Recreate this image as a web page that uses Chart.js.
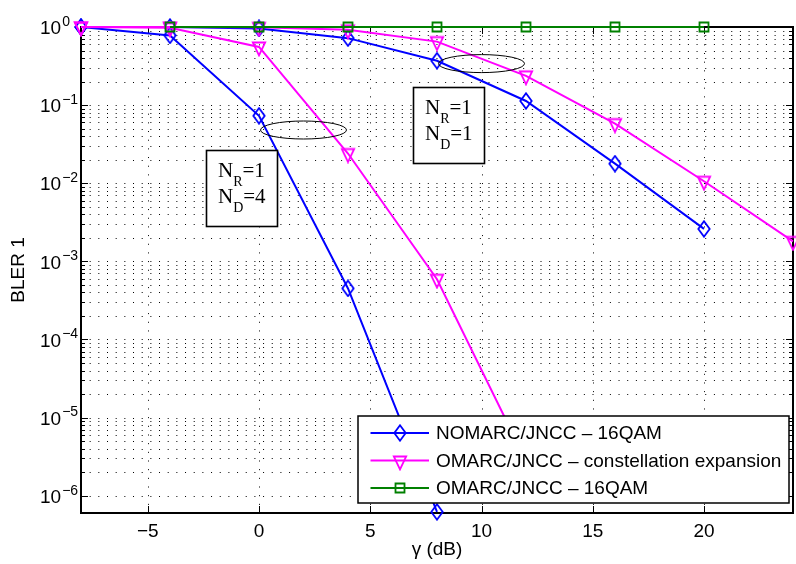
<!DOCTYPE html>
<html>
<head>
<meta charset="utf-8">
<script src="https://cdn.jsdelivr.net/npm/chart.js@4.4.1/dist/chart.umd.min.js"></script>
<style>
html,body{margin:0;padding:0;background:#fff;}
canvas{display:block;}
</style>
</head>
<body>
<canvas id="chart" width="796" height="564"></canvas>
<script>
// gamma (dB) and BLER values
var gammaNomarcND4 = [-8, -4, 0, 4, 8];
var blerNomarcND4 = [1.0, 0.78, 0.073, 4.5e-4, 6.2e-7];
var gammaOmarcCeND4 = [-8, -4, 0, 4, 8, 12];
var blerOmarcCeND4 = [1.0, 0.98, 0.555, 0.024, 5.9e-4, 2.8e-6];
var gammaNomarcND1 = [-8, -4, 0, 4, 8, 12, 16, 20];
var blerNomarcND1 = [1.0, 1.0, 0.96, 0.72, 0.37, 0.113, 0.0178, 0.0026];
var gammaOmarcCeND1 = [-8, -4, 0, 4, 8, 12, 16, 20, 24];
var blerOmarcCeND1 = [1.0, 1.0, 0.99, 0.92, 0.65, 0.237, 0.058, 0.0106, 0.0018];
var gammaOmarc16 = [-4, 0, 4, 8, 12, 16, 20];
var blerOmarc16 = [1, 1, 1, 1, 1, 1, 1];

var seriesNames = ['NOMARC/JNCC \u2013 16QAM', 'OMARC/JNCC \u2013 constellation expansion', 'OMARC/JNCC \u2013 16QAM'];
var seriesColors = ['#0000ff', '#ff00ff', '#008000'];

var xTicks = [-5, 0, 5, 10, 15, 20];
var yDecades = [0, -1, -2, -3, -4, -5, -6];
var xMin = -8, xMax = 24, yMin = 6e-7, yMax = 1;

// text boxes (top-left corner in data coords) and ellipses (centre)
var noteBoxes = [
  {x: -2.38, y: 0.0269, r: '1', d: '4'},
  {x: 6.92, y: 0.171, r: '1', d: '1'}
];
var noteEllipses = [
  {x: 2.0, y: 0.048},
  {x: 10.0, y: 0.34}
];

var SANS = '"Liberation Sans", Arial, Helvetica, sans-serif';
var SERIF = '"Liberation Serif", "Times New Roman", serif';

function makeMarker(kind, color) {
  var c = document.createElement('canvas');
  var g;
  if (kind == 'diamond') {
    c.width = 14; c.height = 18; g = c.getContext('2d');
    g.beginPath(); g.moveTo(7, 1.3); g.lineTo(12.7, 9); g.lineTo(7, 16.7); g.lineTo(1.3, 9); g.closePath();
  } else if (kind == 'triangle') {
    c.width = 16; c.height = 20; g = c.getContext('2d');
    g.beginPath(); g.moveTo(1.8, 5.5); g.lineTo(14.2, 5.5); g.lineTo(8, 18.4); g.closePath();
  } else {
    c.width = 12; c.height = 12; g = c.getContext('2d');
    g.beginPath(); g.rect(1.5, 1.5, 9, 9);
  }
  g.strokeStyle = color; g.lineWidth = 1.8; g.stroke();
  return c;
}
var markers = [makeMarker('diamond', seriesColors[0]), makeMarker('triangle', seriesColors[1]), makeMarker('square', seriesColors[2])];

function series(xs, ys, idx, order) {
  return {
    data: xs.map(function(x, i) { return {x: x, y: ys[i]}; }),
    borderColor: seriesColors[idx],
    backgroundColor: seriesColors[idx],
    borderWidth: 2,
    pointStyle: markers[idx],
    pointRadius: 6,
    pointHoverRadius: 6,
    tension: 0,
    fill: false,
    clip: false,
    order: order
  };
}

var matlabAxes = {
  id: 'matlabAxes',
  beforeDatasetsDraw: function(chart) {
    var ctx = chart.ctx, a = chart.chartArea, xs = chart.scales.x, ys = chart.scales.y;
    ctx.save();
    // dotted grid
    ctx.strokeStyle = '#000';
    ctx.lineWidth = 1;
    ctx.setLineDash([1, 7.67]);
    xs.ticks.forEach(function(t) {
      var px = Math.round(xs.getPixelForValue(t.value)) + 0.5;
      ctx.beginPath(); ctx.moveTo(px, a.top); ctx.lineTo(px, a.bottom); ctx.stroke();
    });
    ys.ticks.forEach(function(t) {
      if (t.value >= yMax) return;
      var py = Math.round(ys.getPixelForValue(t.value)) + 0.5;
      ctx.beginPath(); ctx.moveTo(a.left, py); ctx.lineTo(a.right, py); ctx.stroke();
    });
    ctx.setLineDash([]);
    // inner tick marks
    xs.ticks.forEach(function(t) {
      var px = Math.round(xs.getPixelForValue(t.value)) + 0.5;
      ctx.beginPath();
      ctx.moveTo(px, a.bottom); ctx.lineTo(px, a.bottom - 7);
      ctx.moveTo(px, a.top); ctx.lineTo(px, a.top + 7);
      ctx.stroke();
    });
    ys.ticks.forEach(function(t) {
      var py = Math.round(ys.getPixelForValue(t.value)) + 0.5;
      var len = t.major ? 7 : 4;
      ctx.beginPath();
      ctx.moveTo(a.left, py); ctx.lineTo(a.left + len, py);
      ctx.moveTo(a.right, py); ctx.lineTo(a.right - len, py);
      ctx.stroke();
    });
    // box
    ctx.lineWidth = 2;
    ctx.strokeRect(a.left, a.top, a.right - a.left, a.bottom - a.top);
    // y tick labels 10^n
    ctx.fillStyle = '#000';
    ctx.textAlign = 'left';
    ctx.textBaseline = 'middle';
    yDecades.forEach(function(e) {
      var py = ys.getPixelForValue(Math.pow(10, e));
      ctx.font = '19px ' + SANS;
      ctx.fillText('10', 40, py + 2);
      var w = ctx.measureText('10').width;
      ctx.font = '14px ' + SANS;
      ctx.fillText(e == 0 ? '0' : '\u2212' + (-e), 40 + w + 1, py - 5);
    });
    ctx.restore();
  },
  afterDatasetsDraw: function(chart) {
    var ctx = chart.ctx, a = chart.chartArea, xs = chart.scales.x, ys = chart.scales.y;
    ctx.save();
    // ellipses
    ctx.strokeStyle = '#000';
    ctx.lineWidth = 1;
    noteEllipses.forEach(function(n) {
      ctx.beginPath();
      ctx.ellipse(xs.getPixelForValue(n.x), ys.getPixelForValue(n.y), 43, 9, 0, 0, Math.PI * 2);
      ctx.stroke();
    });
    // text boxes
    noteBoxes.forEach(function(b) {
      var bx = Math.round(xs.getPixelForValue(b.x)), by = Math.round(ys.getPixelForValue(b.y));
      ctx.fillStyle = '#fff';
      ctx.fillRect(bx, by, 71, 76);
      ctx.lineWidth = 1.6;
      ctx.strokeStyle = '#000';
      ctx.strokeRect(bx + 0.5, by + 0.5, 71, 76);
      ctx.fillStyle = '#000';
      ctx.textAlign = 'left';
      ctx.textBaseline = 'alphabetic';
      [['R', b.r, 27], ['D', b.d, 53]].forEach(function(row) {
        var tx = bx + 12, ty = by + row[2];
        ctx.font = '21px ' + SERIF;
        ctx.fillText('N', tx, ty);
        tx += ctx.measureText('N').width;
        ctx.font = '14px ' + SERIF;
        ctx.fillText(row[0], tx, ty + 9);
        tx += ctx.measureText(row[0]).width;
        ctx.font = '21px ' + SERIF;
        ctx.fillText('=' + row[1], tx, ty);
      });
    });
    // legend
    var lx = a.right - 435, ly = a.bottom - 97, lw = 431, lh = 87;
    ctx.fillStyle = '#fff';
    ctx.fillRect(lx, ly, lw, lh);
    ctx.lineWidth = 1.5;
    ctx.strokeStyle = '#000';
    ctx.strokeRect(lx, ly, lw, lh);
    ctx.font = '19px ' + SANS;
    ctx.textBaseline = 'middle';
    seriesNames.forEach(function(name, i) {
      var ry = ly + 17 + i * 27.5;
      ctx.strokeStyle = seriesColors[i];
      ctx.lineWidth = 2;
      ctx.beginPath(); ctx.moveTo(lx + 12.5, ry); ctx.lineTo(lx + 71, ry); ctx.stroke();
      var m = markers[i];
      ctx.drawImage(m, Math.round(lx + 42 - m.width / 2), Math.round(ry - m.height / 2));
      ctx.fillStyle = '#000';
      ctx.fillText(name, lx + 78, ry + 1);
    });
    ctx.restore();
  }
};

new Chart(document.getElementById('chart'), {
  type: 'line',
  data: {
    datasets: [
      series(gammaNomarcND4, blerNomarcND4, 0, 3),
      series(gammaNomarcND1, blerNomarcND1, 0, 3),
      series(gammaOmarcCeND4, blerOmarcCeND4, 1, 2),
      series(gammaOmarcCeND1, blerOmarcCeND1, 1, 2),
      series(gammaOmarc16, blerOmarc16, 2, 1)
    ]
  },
  options: {
    responsive: false,
    animation: false,
    events: [],
    layout: {autoPadding: false, padding: {left: 0, right: 3, top: 27, bottom: 0}},
    plugins: {legend: {display: false}, tooltip: {enabled: false}},
    scales: {
      x: {
        type: 'linear',
        min: xMin, max: xMax,
        afterBuildTicks: function(s) { s.ticks = xTicks.map(function(v) { return {value: v}; }); },
        afterFit: function(s) { s.height = 51; s.paddingLeft = 0; s.paddingRight = 0; },
        grid: {display: false, drawTicks: false},
        border: {display: false},
        ticks: {
          color: '#000', padding: 7, maxRotation: 0, autoSkip: false,
          font: {family: SANS, size: 19},
          callback: function(v) { return v < 0 ? '\u2212' + Math.abs(v) : String(v); }
        },
        title: {display: true, text: '\u03b3 (dB)', color: '#000', font: {family: SANS, size: 19}, padding: {top: 0, bottom: 3}}
      },
      y: {
        type: 'logarithmic',
        min: yMin, max: yMax,
        afterBuildTicks: function(s) {
          var t = [];
          yDecades.forEach(function(e) {
            for (var m = 1; m <= 9; m++) {
              var v = m * Math.pow(10, e);
              if (v >= yMin && v <= yMax) t.push({value: v, major: m == 1});
            }
          });
          s.ticks = t;
        },
        afterFit: function(s) { s.width = 81; s.paddingTop = 0; s.paddingBottom = 0; },
        grid: {display: false, drawTicks: false},
        border: {display: false},
        ticks: {display: false},
        title: {display: true, text: 'BLER 1', color: '#000', font: {family: SANS, size: 19}, padding: {top: 7, bottom: 0}}
      }
    }
  },
  plugins: [matlabAxes]
});
</script>
</body>
</html>
